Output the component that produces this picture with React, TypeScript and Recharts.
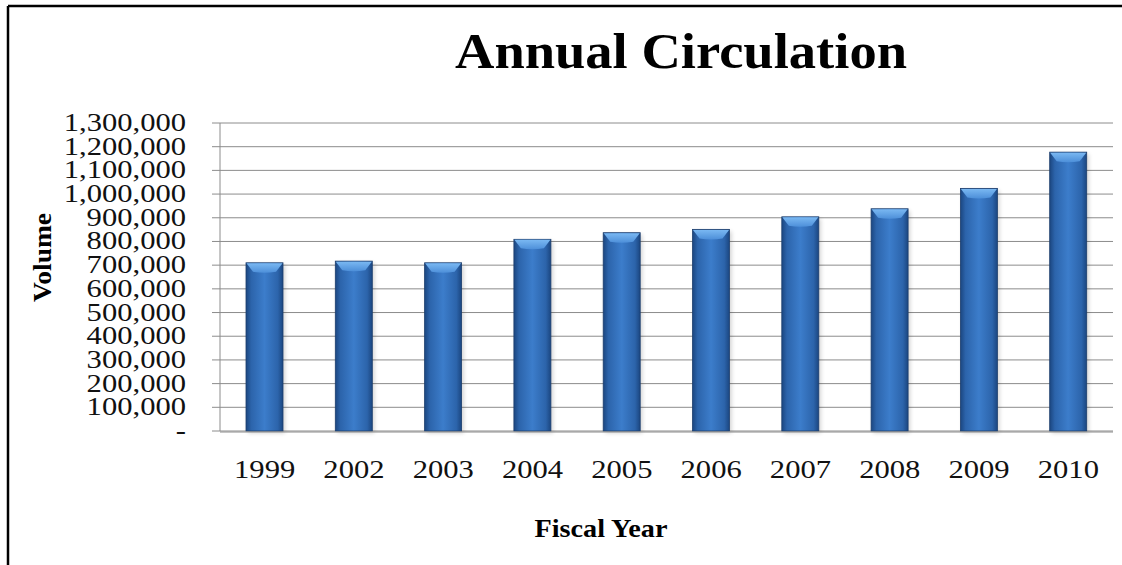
import { BarChart, Bar, XAxis, YAxis, CartesianGrid } from "recharts";

const years = ["1999", "2002", "2003", "2004", "2005", "2006", "2007", "2008", "2009", "2010"];
const circulation = [710000, 717000, 710000, 809000, 837000, 851000, 904000, 938000, 1024000, 1177000];
const volumeTicks = [
  0, 100000, 200000, 300000, 400000, 500000, 600000, 700000, 800000, 900000, 1000000, 1100000, 1200000,
  1300000,
];
const edgeTicks = [0, 1, 2, 3, 4, 5, 6, 7, 8, 9, 10];

const data = years.map((year, i) => ({ year, volume: circulation[i] }));

const serif = '"Liberation Serif", "Times New Roman", serif';
const gridGray = "#8c8c8c";

function VolumeTick({ x, y, payload }: any) {
  const v = Number(payload.value);
  const label = v === 0 ? "-" : v.toLocaleString("en-US");
  return (
    <text
      transform={`translate(${x},${y + 8}) scale(1.33,1.05)`}
      textAnchor="end"
      fontSize={23}
      fontFamily={serif}
      fill="#111"
    >
      {label}
    </text>
  );
}

function YearTick({ x, y, payload }: any) {
  return (
    <text
      transform={`translate(${x},${y + 47}) scale(1.33,1.05)`}
      textAnchor="middle"
      fontSize={23}
      fontFamily={serif}
      fill="#111"
    >
      {payload.value}
    </text>
  );
}

function GlossyBar({ x, y, width, height }: any) {
  if (!height || height <= 0) return null;
  const bevel = Math.min(9, height / 2);
  return (
    <g>
      <rect x={x + 2} y={y + 2} width={width} height={height} fill="#000" opacity={0.18} filter="url(#barShadow)" />
      <rect x={x} y={y} width={width} height={height} fill="url(#barBody)" stroke="#1d3f6e" strokeWidth={0.8} />
      <path
        d={`M${x + 0.5},${y + 0.5} L${x + width - 0.5},${y + 0.5} L${x + width - 7},${y + bevel} Q${x + width / 2},${y + bevel + 2} ${x + 7},${y + bevel} Z`}
        fill="url(#barTop)"
      />
    </g>
  );
}

export default function App() {
  return (
    <div
      style={{
        position: "absolute",
        left: 0,
        top: 0,
        width: 1122,
        height: 565,
        background: "#fff",
        overflow: "hidden",
      }}
    >
      <BarChart
        width={1122}
        height={565}
        data={data}
        margin={{ top: 123, right: 9, bottom: 132, left: 0 }}
        barSize={37}
      >
        <CartesianGrid vertical={false} stroke={gridGray} strokeWidth={1} />
        <XAxis
          dataKey="year"
          height={1}
          axisLine={false}
          tickLine={false}
          tickSize={0}
          tickMargin={0}
          tick={YearTick}
          interval={0}
        />
        <XAxis
          xAxisId="edges"
          type="number"
          domain={[0, 10]}
          ticks={edgeTicks}
          allowDataOverflow
          height={1}
          tick={false}
          tickSize={8}
          axisLine={{ stroke: gridGray }}
          tickLine={{ stroke: gridGray }}
        />
        <YAxis
          width={220}
          domain={[0, 1300000]}
          ticks={volumeTicks}
          interval={0}
          tickSize={8}
          tickMargin={26}
          tick={VolumeTick}
          axisLine={{ stroke: gridGray }}
          tickLine={{ stroke: gridGray }}
        />
        <Bar dataKey="volume" shape={GlossyBar} isAnimationActive={false} />
      </BarChart>

      <svg
        width={1122}
        height={565}
        style={{ position: "absolute", left: 0, top: 0, pointerEvents: "none" }}
      >
        <defs>
          <linearGradient id="barBody" x1="0" y1="0" x2="1" y2="0">
            <stop offset="0%" stopColor="#1b4680" />
            <stop offset="14%" stopColor="#2c64ab" />
            <stop offset="50%" stopColor="#3c7dcb" />
            <stop offset="86%" stopColor="#2c64ab" />
            <stop offset="100%" stopColor="#1b4680" />
          </linearGradient>
          <linearGradient id="barTop" x1="0" y1="0" x2="0" y2="1">
            <stop offset="0%" stopColor="#7ab8f2" />
            <stop offset="100%" stopColor="#4d8fd9" />
          </linearGradient>
          <filter id="barShadow" x="-20%" y="-5%" width="140%" height="110%">
            <feGaussianBlur stdDeviation="2" />
          </filter>
        </defs>
        <line x1={8} y1={6} x2={1122} y2={6} stroke="#000" strokeWidth={2.5} />
        <line x1={8} y1={6} x2={8} y2={565} stroke="#000" strokeWidth={2.5} />
        <text
          x={681}
          y={68}
          textAnchor="middle"
          fontSize={50}
          fontWeight="bold"
          fontFamily={serif}
          textLength={452}
          lengthAdjust="spacingAndGlyphs"
          fill="#000"
        >
          Annual Circulation
        </text>
        <text
          transform="translate(51,257.5) rotate(-90)"
          textAnchor="middle"
          fontSize={26}
          fontWeight="bold"
          fontFamily={serif}
          textLength={89}
          lengthAdjust="spacingAndGlyphs"
          fill="#000"
        >
          Volume
        </text>
        <text
          x={601}
          y={537}
          textAnchor="middle"
          fontSize={26}
          fontWeight="bold"
          fontFamily={serif}
          textLength={133}
          lengthAdjust="spacingAndGlyphs"
          fill="#000"
        >
          Fiscal Year
        </text>
      </svg>
    </div>
  );
}
